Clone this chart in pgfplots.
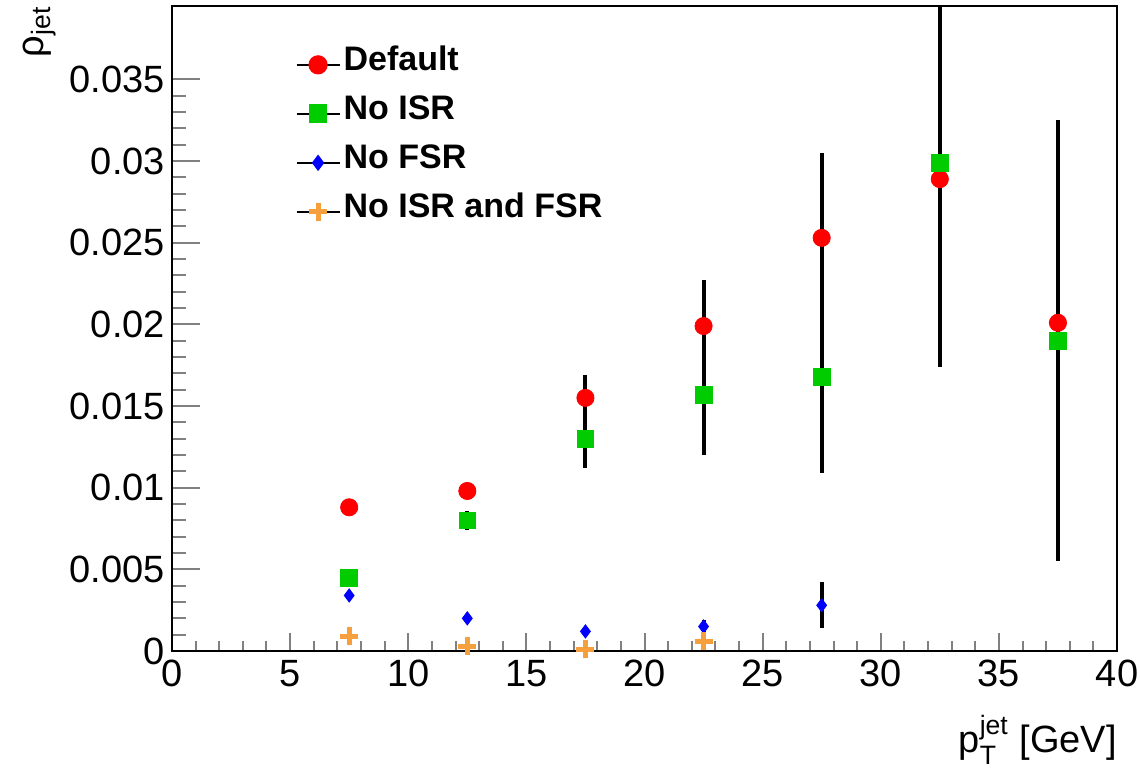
\documentclass[border=0pt]{standalone}
\usepackage{fontspec}
\setmainfont{Liberation Sans}
\usepackage{amsmath}
\usepackage{pgfplots}
\pgfplotsset{compat=1.18}
\definecolor{rootgreen}{RGB}{0,204,0}
\definecolor{rootorange}{RGB}{245,160,60}
\begin{document}
\begin{tikzpicture}
\begin{axis}[
  scale only axis,
  width=472.5pt, height=322.5pt,
  xmin=0, xmax=40, ymin=0, ymax=0.0395,
  axis line style={line width=1pt},
  xtick={0,5,...,40},
  ytick={0,0.005,0.01,0.015,0.02,0.025,0.03,0.035},
  yticklabels={0,0.005,0.01,0.015,0.02,0.025,0.03,0.035},
  minor x tick num=4, minor y tick num=4,
  tick align=inside,
  xtick pos=bottom, ytick pos=left,
  xtick style={line width=1pt, /pgfplots/major tick length=9pt, /pgfplots/minor tick length=5pt},
  ytick style={line width=1pt, /pgfplots/major tick length=14pt, /pgfplots/minor tick length=7pt},
  minor tick style={line width=1pt},
  /pgf/number format/assume math mode=true,
  ticklabel style={font=\fontsize{19}{22}\selectfont},
  xticklabel style={yshift=-1pt},
  scaled y ticks=false,
  xlabel={p$^{\text{jet}}_{\text{T}}$ [GeV]},
  xlabel style={font=\fontsize{19}{22}\selectfont, at={(axis description cs:1,-0.138)}, anchor=east, inner sep=0pt},
  ylabel={ρ$_{\text{jet}}$},
  ylabel style={font=\fontsize{19}{22}\selectfont, at={(axis description cs:-0.14,1)}, anchor=east, rotate=0, inner sep=0pt},
  legend style={draw=none, fill=none, at={(axis description cs:0.124,0.935)}, anchor=north west,
    font=\fontsize{17}{20}\selectfont\bfseries, row sep=12pt,
    nodes={inner sep=1.5pt, text height=0.75em, text depth=0.2em}},
  legend cell align=left,
  legend image code/.code={
    \draw[black,line width=1pt,solid,mark repeat=2,mark phase=2] plot[sharp plot] coordinates {(0pt,0pt)(10.75pt,0pt)(21.5pt,0pt)};
  },
  error bars/y dir=both, error bars/y explicit,
  error bars/error mark=none,
  error bars/error bar style={black, line width=2pt},
]
\addplot[only marks, mark=*, mark size=4.3pt, mark options={draw=red, fill=red}] coordinates {
  (7.5,0.0088) +- (0,0.0003)
  (12.5,0.0098) +- (0,0.0003)
  (17.5,0.0155) +- (0,0.0014)
  (22.5,0.0199) +- (0,0.0028)
  (27.5,0.0253) +- (0,0.0052)
  (32.5,0.0289) +- (0,0.0115)
  (37.5,0.0201) +- (0,0.0122)
};
\addlegendentry{Default}
\addplot[only marks, mark=square*, mark size=4.2pt, mark options={draw=rootgreen, fill=rootgreen}] coordinates {
  (7.5,0.0045) +- (0,0.0002)
  (12.5,0.0080) +- (0,0.0006)
  (17.5,0.0130) +- (0,0.0018)
  (22.5,0.0157) +- (0,0.0037)
  (27.5,0.0168) +- (0,0.0059)
  (32.5,0.0299) +- (0,0.0100)
  (37.5,0.0190) +- (0,0.0135)
};
\addlegendentry{No ISR}
\addplot[only marks, mark=diamond*, mark size=3.3pt, mark options={draw=blue, fill=blue}] coordinates {
  (7.5,0.0034) +- (0,0.0001)
  (12.5,0.0020) +- (0,0.0001)
  (17.5,0.0012) +- (0,0.0001)
  (22.5,0.0015) +- (0,0.0004)
  (27.5,0.0028) +- (0,0.0014)
};
\addlegendentry{No FSR}
\addplot[only marks, mark=+, mark size=4.5pt, mark options={draw=rootorange, line width=2.5pt}] coordinates {
  (7.5,0.0009) +- (0,0.0001)
  (12.5,0.0003) +- (0,0.0001)
  (17.5,0.0001) +- (0,0.0001)
  (22.5,0.0006) +- (0,0.0001)
};
\addlegendentry{No ISR and FSR}
\end{axis}
\pgfresetboundingbox
\useasboundingbox (current axis.south west) ++(-86pt,-60pt) rectangle ([shift={(11.5pt,3pt)}]current axis.north east);
\end{tikzpicture}
\end{document}
